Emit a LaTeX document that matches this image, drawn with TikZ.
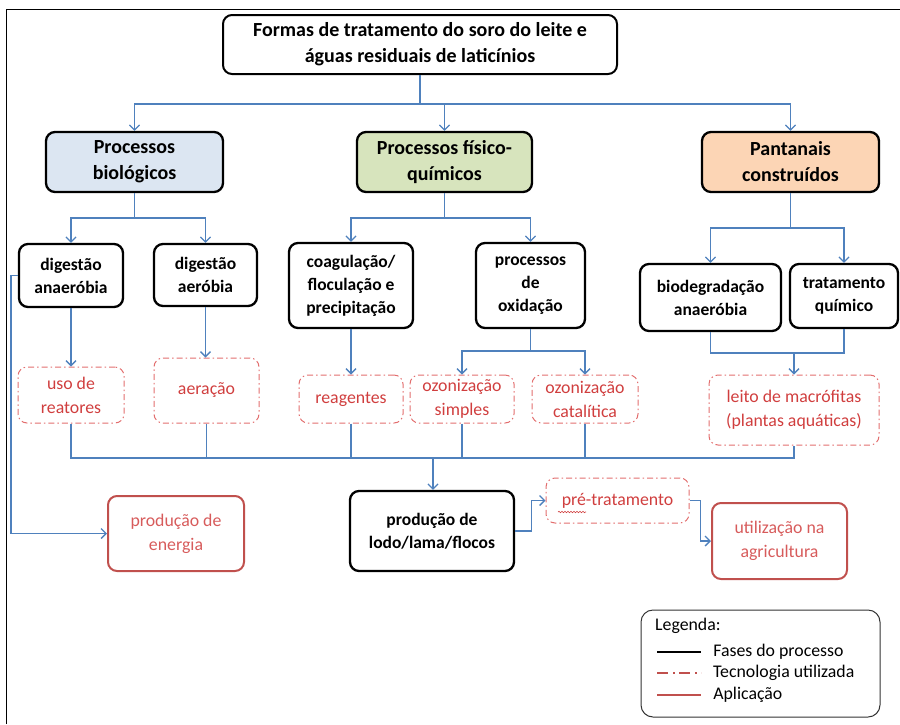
\documentclass[tikz,border=0pt]{standalone}
\usepackage{fontspec}
\setmainfont{Carlito}
\usetikzlibrary{arrows.meta,decorations.pathmorphing}

\definecolor{azulseta}{RGB}{79,129,189}
\definecolor{azulclaro}{RGB}{220,230,242}
\definecolor{verdeclaro}{RGB}{215,228,189}
\definecolor{pessego}{RGB}{252,213,181}
\definecolor{vermelho}{RGB}{192,80,77}
\definecolor{rosado}{RGB}{226,110,110}
\definecolor{txtverm}{RGB}{208,62,62}

\tikzset{
  larg/.style={minimum width=#1pt},
  alt/.style={minimum height=#1pt},
  caixa/.style={inner sep=0pt, align=center, rounded corners=9pt},
  fase/.style={caixa, draw, line width=2.3pt, font=\fontsize{17.5pt}{23pt}\selectfont\bfseries},
  grupo/.style={caixa, draw, line width=2.3pt, font=\fontsize{20pt}{26pt}\selectfont\bfseries},
  tecno/.style={caixa, draw=rosado, line width=1pt, dash pattern=on 6pt off 3pt on 1.5pt off 3pt,
    text=txtverm, font=\fontsize{17.8pt}{24pt}\selectfont},
  aplic/.style={caixa, draw=vermelho, line width=2pt, text=txtverm!85, font=\fontsize{17.8pt}{24pt}\selectfont},
  liga/.style={draw=azulseta, line width=1.3pt},
  seta/.style={liga, -{Straight Barb[length=5pt,width=10pt]}},
  legtxt/.style={black, font=\fontsize{17.8pt}{20pt}\selectfont}
}

\begin{document}
\begin{tikzpicture}[x=1pt, y=-1pt]
\useasboundingbox (0,0) rectangle (900,724);
\draw[line width=1pt] (6,724) -- (6,9) -- (900,9);

% topo e grupos
\node[grupo, larg=394, alt=59, line width=2pt] (tit) at (420,44.5) {Formas de tratamento do soro do leite e\\águas residuais de laticínios};
\node[grupo, larg=177, alt=60, fill=azulclaro] (bio) at (134.5,162) {Processos\\biológicos};
\node[grupo, larg=175, alt=60, fill=verdeclaro] (fis) at (444.5,162) {Processos físico-\\químicos};
\node[grupo, larg=177, alt=60, fill=pessego] (pan) at (790.5,162) {Pantanais\\construídos};

% fases
\node[fase, larg=104, alt=63] (dan) at (71,275.5) {digestão\\anaeróbia};
\node[fase, larg=103, alt=62] (dae) at (205.5,275) {digestão\\aeróbia};
\node[fase, larg=124, alt=85] (coa) at (351,285.5) {coagulação/\\floculação e\\precipitação};
\node[fase, larg=109, alt=85] (oxi) at (530.5,285.5) {processos\\de\\oxidação};
\node[fase, larg=141, alt=67] (biod) at (710.5,297.5) {biodegradação\\anaeróbia};
\node[fase, larg=108, alt=64] (trq) at (844,296) {tratamento\\químico};

% tecnologias
\node[tecno, larg=106, alt=56] (reat) at (71,395) {uso de\\reatores};
\node[tecno, larg=105, alt=65] (aer) at (206.5,390.5) {aeração};
\node[tecno, larg=104, alt=48] (reag) at (351,399) {reagentes};
\node[tecno, larg=104, alt=48] (ozs) at (462,399) {ozonização\\simples};
\node[tecno, larg=106, alt=48] (ozc) at (585,399) {ozonização\\catalítica};
\node[tecno, larg=170, alt=70] (leito) at (794,410) {leito de macrófitas\\(plantas aquáticas)};

% baixo
\node[aplic, larg=136, alt=75] (ener) at (176,533.5) {produção de\\energia};
\node[fase, larg=164, alt=80] (lodo) at (432,531) {produção de\\lodo/lama/flocos};
\node[tecno, larg=143, alt=45] (pre) at (617.5,500.5) {pré-tratamento};
\node[aplic, larg=135, alt=76] (agri) at (779.5,541) {utilização na\\agricultura};
\draw[txtverm, line width=0.6pt, decorate, decoration={snake, amplitude=0.7pt, segment length=3pt}] (558,512) -- (586,512);

% ligacoes
\coordinate (t1) at (420,104);
\draw[liga] (tit) -- (t1);
\foreach \n in {bio,fis,pan} \draw[seta] (t1) -| (\n);
\coordinate (b1) at (134.5,218);
\draw[liga] (bio) -- (b1);
\draw[seta] (b1) -| (dan);
\draw[seta] (b1) -| (dae);
\coordinate (f1) at (444.5,218);
\draw[liga] (fis) -- (f1);
\draw[seta] (f1) -| (coa);
\draw[seta] (f1) -| (oxi);
\coordinate (p1) at (790.5,228);
\draw[liga] (pan) -- (p1);
\draw[seta] (p1) -| (biod);
\draw[seta] (p1) -| (trq);

\draw[seta] (dan) -- (reat);
\draw[seta] (dae.south) -- (dae.south |- aer.north);
\draw[seta] (coa) -- (reag);
\coordinate (o1) at (530.5,351);
\draw[liga] (oxi) -- (o1);
\draw[seta] (o1) -| (ozs);
\draw[seta] (o1) -| (ozc);
\coordinate (l1) at (794,353);
\draw[liga] (biod.south) |- (l1) -| (trq.south);
\draw[seta] (l1) -- (leito);

\coordinate (col) at (433,458);
\draw[liga] (reat.south) |- (leito.south |- col) -- (leito.south);
\foreach \n in {aer,reag,ozs,ozc} \draw[liga] (\n.south) -- (\n.south |- col);
\draw[seta] (col) -- (col |- lodo.north);

\draw[seta] (dan.west) -- (11,275.5) |- (ener.west);
\draw[seta] (lodo.east) -- ++(16,0) |- (pre.west);
\draw[seta] (pre.east) -- ++(11,0) |- (agri.west);

% legenda
\draw[line width=1pt, black!80, rounded corners=12pt] (641,610) rectangle (880,717);
\node[anchor=base west, inner sep=0pt, legtxt] (leg) at (655,630) {Legenda:};
\draw[line width=2pt] (657,652) -- (701,652) node[right=8pt, legtxt] {Fases do processo};
\draw[line width=1.6pt, vermelho, dash pattern=on 11pt off 5pt on 2pt off 4pt] (657,673) -- (701,673) node[right=8pt, legtxt] {Tecnologia utilizada};
\draw[line width=2pt, vermelho] (657,695) -- (701,695) node[right=8pt, legtxt] {Aplicação};
\end{tikzpicture}
\end{document}
